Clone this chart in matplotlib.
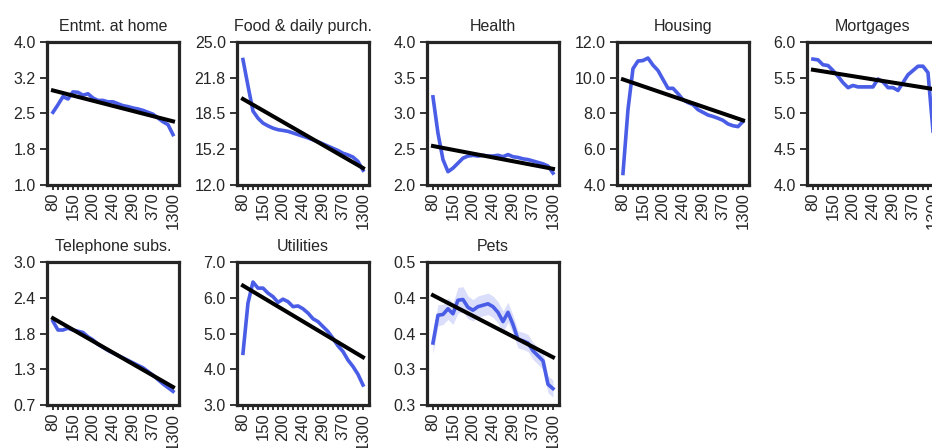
import numpy as np
import matplotlib
matplotlib.use("Agg")
import matplotlib.pyplot as plt
from matplotlib.ticker import FormatStrFormatter

plt.rcParams['font.family'] = ['Liberation Sans', 'DejaVu Sans']
plt.rcParams['text.color'] = '#262626'
plt.rcParams['axes.edgecolor'] = '#262626'
plt.rcParams['xtick.color'] = '#262626'
plt.rcParams['ytick.color'] = '#262626'

# income bins (only every 4th label is shown)
income = [80, 100, 115, 135, 150, 165, 175, 190, 200, 210, 220, 230, 240,
          250, 265, 275, 290, 305, 325, 345, 370, 410, 480, 620, 1300]

categories = ['Entmt. at home', 'Food & daily purch.', 'Health', 'Housing',
              'Mortgages', 'Telephone subs.', 'Utilities', 'Pets']

entmt = [2.52, 2.68, 2.85, 2.80, 2.95, 2.94, 2.88, 2.91, 2.82, 2.77, 2.77, 2.74,
         2.74, 2.70, 2.66, 2.64, 2.61, 2.59, 2.56, 2.52, 2.48, 2.40, 2.32, 2.26, 2.05]
food = [23.4, 21.0, 18.7, 18.05, 17.6, 17.35, 17.14, 17.0, 16.93, 16.85, 16.7, 16.55,
        16.4, 16.25, 16.07, 15.9, 15.7, 15.5, 15.3, 15.1, 14.85, 14.7, 14.5, 14.1, 13.3]
health = [3.23, 2.72, 2.35, 2.18, 2.23, 2.30, 2.37, 2.40, 2.41, 2.40, 2.41, 2.40,
          2.40, 2.41, 2.39, 2.42, 2.39, 2.38, 2.36, 2.35, 2.33, 2.31, 2.29, 2.26, 2.16]
housing = [4.62, 8.2, 10.5, 10.93, 10.96, 11.1, 10.7, 10.4, 9.9, 9.4, 9.4, 9.1,
           8.76, 8.6, 8.48, 8.2, 8.05, 7.9, 7.82, 7.72, 7.6, 7.4, 7.3, 7.25, 7.54]
mortgages = [5.76, 5.75, 5.68, 5.67, 5.60, 5.52, 5.43, 5.36, 5.39, 5.37, 5.37, 5.37,
             5.37, 5.48, 5.44, 5.36, 5.36, 5.32, 5.43, 5.54, 5.60, 5.66, 5.66, 5.57, 4.75]
telephone = [2.05, 1.91, 1.91, 1.94, 1.91, 1.89, 1.87, 1.80, 1.75, 1.68, 1.63, 1.58,
             1.54, 1.50, 1.46, 1.42, 1.38, 1.34, 1.30, 1.24, 1.18, 1.11, 1.04, 0.98, 0.92]
utilities = [4.45, 5.86, 6.45, 6.28, 6.28, 6.14, 6.04, 5.88, 5.97, 5.90, 5.76, 5.78,
             5.70, 5.58, 5.42, 5.34, 5.20, 5.06, 4.87, 4.66, 4.50, 4.26, 4.08, 3.86, 3.56]
pets = [0.367, 0.406, 0.407, 0.415, 0.408, 0.427, 0.428, 0.417, 0.413, 0.418, 0.420,
        0.422, 0.418, 0.410, 0.397, 0.410, 0.393, 0.372, 0.370, 0.367, 0.356, 0.349,
        0.342, 0.309, 0.303]
pets_ci = [0.015, 0.015, 0.014, 0.015, 0.015, 0.018, 0.018, 0.016, 0.015, 0.015, 0.015,
           0.015, 0.015, 0.015, 0.015, 0.014, 0.013, 0.012, 0.012, 0.012, 0.012, 0.012,
           0.012, 0.012, 0.012]

series = [entmt, food, health, housing, mortgages, telephone, utilities, pets]
ci = [0.02, 0.08, 0.02, 0.08, 0.025, 0.015, 0.03, pets_ci]
ylims = [(1.0, 4.0), (12.0, 25.0), (2.0, 4.0), (4.0, 12.0), (4.0, 6.0),
         (0.7, 3.0), (3.0, 7.0), (0.28, 0.48)]
# fitted trend values at first and last bin
trend_left = [2.98, 19.8, 2.54, 9.9, 5.61, 2.10, 6.35, 0.434]
trend_right = [2.33, 13.5, 2.22, 7.6, 5.34, 0.99, 4.34, 0.347]

blue = '#4a5de6'

fig = plt.figure(figsize=(9.32, 4.48), dpi=100)
gs = fig.add_gridspec(2, 5, left=0.0504, right=1.0075, top=0.9063, bottom=0.096,
                      wspace=0.439, hspace=0.547)

x = np.arange(len(income))
for i, name in enumerate(categories):
    ax = fig.add_subplot(gs[i // 5, i % 5])
    y = np.array(series[i])
    c = np.array(ci[i]) * np.ones(len(y))
    ax.fill_between(x, y - c, y + c, color=blue, alpha=0.2, lw=0)
    ax.plot(x, y, color=blue, lw=2.6)
    ax.plot([x[0], x[-1]], [trend_left[i], trend_right[i]], color='black', lw=2.9)

    lo, hi = ylims[i]
    ax.set_ylim(lo, hi)
    ax.set_yticks(np.linspace(lo, hi, 5))
    ax.yaxis.set_major_formatter(FormatStrFormatter('%.1f'))
    ax.set_xticks(x)
    ax.set_xticklabels([str(v) if k % 4 == 0 else '' for k, v in enumerate(income)],
                       rotation=90)
    ax.tick_params(axis='x', length=3.5, width=1.3, labelsize=12, pad=2)
    ax.tick_params(axis='y', length=5, width=1.3, labelsize=11.5, pad=3)
    for s in ax.spines.values():
        s.set_linewidth(2.3)
    ax.set_title(name, fontsize=11.5, pad=8)

fig.savefig('out.png', dpi=100)
